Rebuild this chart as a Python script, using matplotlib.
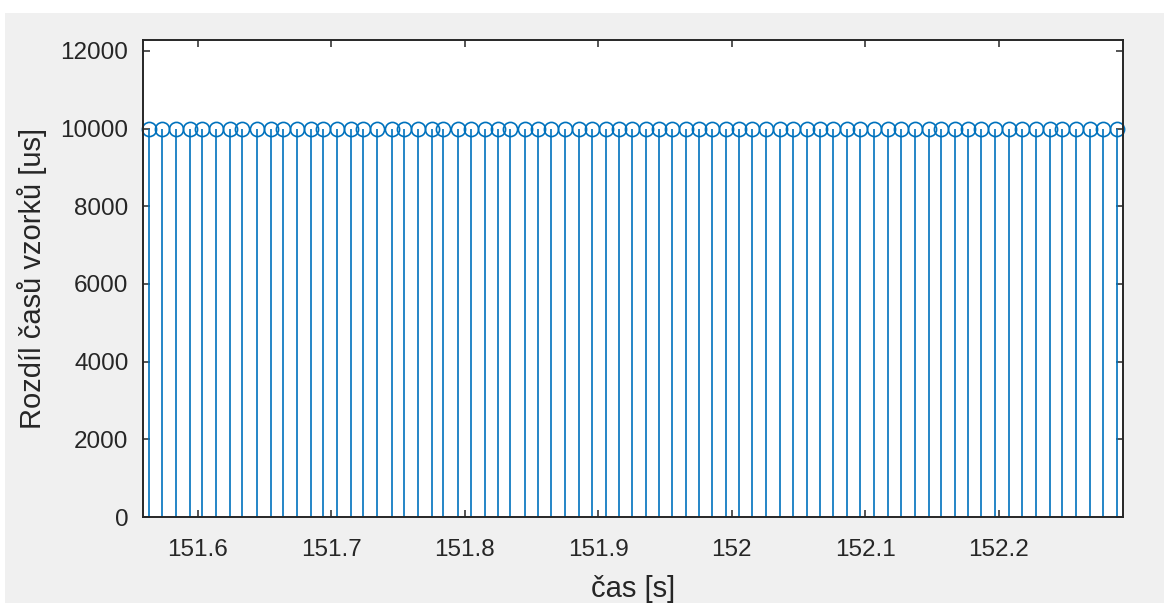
import matplotlib
matplotlib.use("Agg")
import matplotlib.pyplot as plt
from matplotlib.patches import Rectangle

# sample times [s]
times = [151.5637, 151.5733, 151.5837, 151.5942, 151.6030, 151.6137, 151.6242, 151.6334,
         151.6442, 151.6547, 151.6637, 151.6742, 151.6846, 151.6941, 151.7046, 151.7146,
         151.7240, 151.7345, 151.7453, 151.7545, 151.7652, 151.7753, 151.7840, 151.7952,
         151.8047, 151.8152, 151.8246, 151.8339, 151.8452, 151.8551, 151.8644, 151.8751,
         151.8856, 151.8951, 151.9058, 151.9158, 151.9251, 151.9356, 151.9458, 151.9551,
         151.9658, 151.9757, 151.9850, 151.9957, 152.0057, 152.0150, 152.0257, 152.0362,
         152.0457, 152.0562, 152.0661, 152.0761, 152.0861, 152.0961, 152.1066, 152.1171,
         152.1266, 152.1368, 152.1473, 152.1566, 152.1673, 152.1772, 152.1867, 152.1972,
         152.2077, 152.2172, 152.2277, 152.2379, 152.2476, 152.2579, 152.2679, 152.2776,
         152.2884]
# time differences between samples [us]
diffs = [10000] * len(times)

xticks = [151.6, 151.7, 151.8, 151.9, 152.0, 152.1, 152.2]
xticklabels = ["151.6", "151.7", "151.8", "151.9", "152", "152.1", "152.2"]
yticks = [0, 2000, 4000, 6000, 8000, 10000, 12000]

plt.rcParams['font.family'] = ['Liberation Sans', 'DejaVu Sans']

W, H = 1164, 605
fig = plt.figure(figsize=(W / 100, H / 100), dpi=100, facecolor='white')
fig.patches.append(Rectangle((5 / W, 2 / H), 1 - 5 / W, 1 - 15 / H,
                             transform=fig.transFigure, facecolor='#f0f0f0',
                             edgecolor='none', zorder=-10))

ax = fig.add_axes([143 / W, 1 - 517 / H, 979.7 / W, 477 / H])
ax.set_facecolor('white')

blue = '#0072BD'
ml, sl, bl = ax.stem(times, diffs, basefmt=' ')
plt.setp(sl, color=blue, linewidth=1.2)
plt.setp(ml, color=blue, markerfacecolor='none', markeredgecolor=blue,
         markersize=10.2, markeredgewidth=1.2)
for a in (ml, sl):
    a.set_clip_on(False)

ax.set_xlim(151.559, 152.2927)
ax.set_ylim(0, 12280)
ax.set_xticks(xticks)
ax.set_xticklabels(xticklabels)
ax.set_yticks(yticks)

tc = '#262626'
for s in ax.spines.values():
    s.set_color(tc)
    s.set_linewidth(1.4)
ax.tick_params(direction='in', top=True, right=True, length=5, width=1.1,
               colors=tc, labelsize=17.5, labelcolor=tc)
ax.tick_params(axis='x', pad=16)
ax.tick_params(axis='y', pad=10.5)

ax.set_xlabel("čas [s]", fontsize=21, color=tc, labelpad=10)
ax.set_ylabel("Rozdíl časů vzorků [us]", fontsize=21, color=tc, labelpad=10)

fig.savefig("out.png", dpi=100, facecolor=fig.get_facecolor())
